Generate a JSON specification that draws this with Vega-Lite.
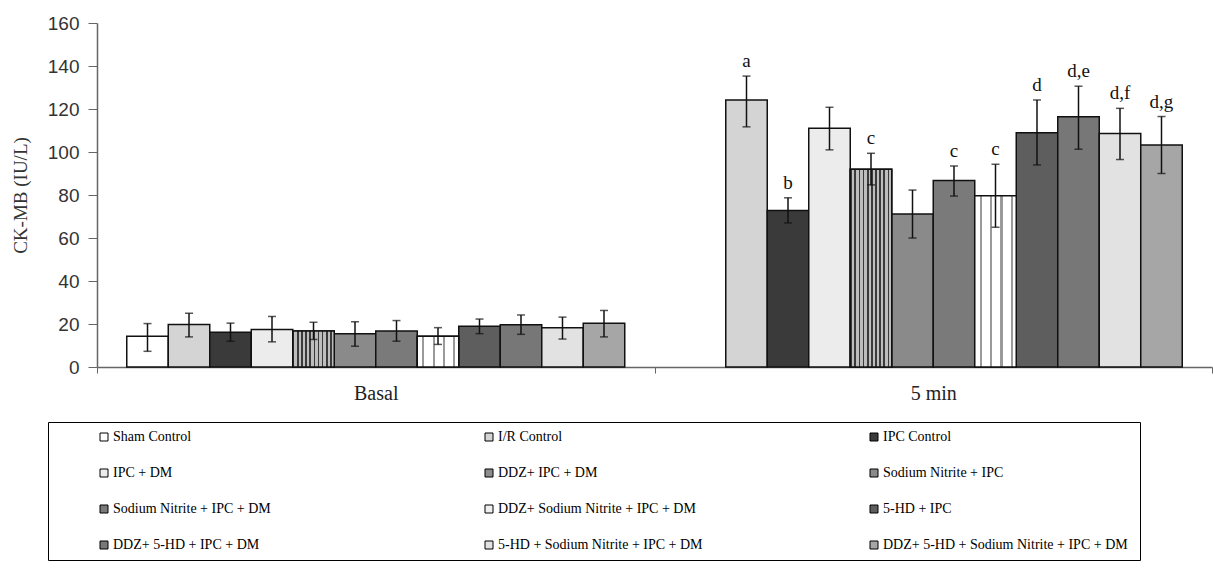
{
  "$schema": "https://vega.github.io/schema/vega-lite/v6.json",
  "width": 1115,
  "height": 344,
  "autosize": {"type": "none"},
  "padding": {"left": 97, "top": 23, "right": 1, "bottom": 202},
  "background": "white",
  "config": {"view": {"stroke": null}, "font": "Liberation Serif"},
  "data": {"values": [
    {"time": "Basal", "group": "Sham Control", "mean": 14.3, "lo": 7.3, "hi": 20.2, "sig": ""},
    {"time": "Basal", "group": "I/R Control", "mean": 19.8, "lo": 14, "hi": 25, "sig": ""},
    {"time": "Basal", "group": "IPC Control", "mean": 16.2, "lo": 12, "hi": 20.4, "sig": ""},
    {"time": "Basal", "group": "IPC + DM", "mean": 17.5, "lo": 11.7, "hi": 23.5, "sig": ""},
    {"time": "Basal", "group": "DDZ+ IPC + DM", "mean": 16.8, "lo": 12.8, "hi": 20.8, "sig": ""},
    {"time": "Basal", "group": "Sodium Nitrite  + IPC", "mean": 15.5, "lo": 9.7, "hi": 21, "sig": ""},
    {"time": "Basal", "group": "Sodium Nitrite  + IPC + DM", "mean": 16.8, "lo": 12, "hi": 21.6, "sig": ""},
    {"time": "Basal", "group": "DDZ+ Sodium Nitrite  + IPC + DM", "mean": 14.3, "lo": 10.5, "hi": 18.3, "sig": ""},
    {"time": "Basal", "group": "5-HD + IPC", "mean": 19, "lo": 15.5, "hi": 22.3, "sig": ""},
    {"time": "Basal", "group": "DDZ+ 5-HD + IPC + DM", "mean": 19.7, "lo": 15.2, "hi": 24.2, "sig": ""},
    {"time": "Basal", "group": "5-HD + Sodium Nitrite  + IPC + DM", "mean": 18.2, "lo": 13, "hi": 23.2, "sig": ""},
    {"time": "Basal", "group": "DDZ+ 5-HD + Sodium Nitrite  + IPC + DM", "mean": 20.3, "lo": 14, "hi": 26.3, "sig": ""},
    {"time": "5 min", "group": "I/R Control", "mean": 124.2, "lo": 111.7, "hi": 135.3, "sig": "a"},
    {"time": "5 min", "group": "IPC Control", "mean": 72.8, "lo": 67, "hi": 78.7, "sig": "b"},
    {"time": "5 min", "group": "IPC + DM", "mean": 111, "lo": 101, "hi": 120.8, "sig": ""},
    {"time": "5 min", "group": "DDZ+ IPC + DM", "mean": 92, "lo": 84.7, "hi": 99.4, "sig": "c"},
    {"time": "5 min", "group": "Sodium Nitrite  + IPC", "mean": 71.2, "lo": 60, "hi": 82.3, "sig": ""},
    {"time": "5 min", "group": "Sodium Nitrite  + IPC + DM", "mean": 86.8, "lo": 79.5, "hi": 93.5, "sig": "c"},
    {"time": "5 min", "group": "DDZ+ Sodium Nitrite  + IPC + DM", "mean": 79.7, "lo": 65, "hi": 94.3, "sig": "c"},
    {"time": "5 min", "group": "5-HD + IPC", "mean": 109, "lo": 94, "hi": 124.2, "sig": "d"},
    {"time": "5 min", "group": "DDZ+ 5-HD + IPC + DM", "mean": 116.4, "lo": 101.3, "hi": 130.6, "sig": "d,e"},
    {"time": "5 min", "group": "5-HD + Sodium Nitrite  + IPC + DM", "mean": 108.6, "lo": 96.5, "hi": 120.3, "sig": "d,f"},
    {"time": "5 min", "group": "DDZ+ 5-HD + Sodium Nitrite  + IPC + DM", "mean": 103.2, "lo": 90, "hi": 116.5, "sig": "d,g"}
  ]},
  "encoding": {
    "x": {
      "field": "time", "type": "nominal",
      "scale": {"domain": ["Basal", "5 min"], "paddingInner": 0, "paddingOuter": 0},
      "axis": {"title": null, "labelAngle": 0, "tickBand": "extent", "tickSize": 6, "domainColor": "#666", "tickColor": "#666", "domainWidth": 1.5, "labelFont": "Liberation Serif, serif", "labelFontSize": 20, "labelColor": "#222", "labelPadding": 10}
    },
    "xOffset": {
      "field": "group", "type": "nominal",
      "scale": {"domain": ["Sham Control", "I/R Control", "IPC Control", "IPC + DM", "DDZ+ IPC + DM", "Sodium Nitrite  + IPC", "Sodium Nitrite  + IPC + DM", "DDZ+ Sodium Nitrite  + IPC + DM", "5-HD + IPC", "DDZ+ 5-HD + IPC + DM", "5-HD + Sodium Nitrite  + IPC + DM", "DDZ+ 5-HD + Sodium Nitrite  + IPC + DM"], "paddingInner": 0, "paddingOuter": 0.717}
    },
    "y": {"field": "mean", "type": "quantitative", "scale": {"domain": [0, 160]},
      "axis": {"title": "CK-MB (IU/L)", "values": [0, 20, 40, 60, 80, 100, 120, 140, 160], "grid": false, "tickSize": 9, "domainColor": "#666", "tickColor": "#666", "domainWidth": 1.5, "labelFont": "Liberation Sans", "labelFontSize": 19, "labelColor": "#333", "labelPadding": 9, "titleFont": "Liberation Serif, serif", "titleFontSize": 19, "titleFontWeight": "normal", "titleColor": "#333", "titlePadding": 17}}
  },
  "layer": [
    {
      "mark": {"type": "bar", "stroke": "#111", "strokeWidth": 1.5},
      "encoding": {
        "fill": {
          "field": "group", "type": "nominal",
          "scale": {
            "domain": ["Sham Control", "I/R Control", "IPC Control", "IPC + DM", "DDZ+ IPC + DM", "Sodium Nitrite  + IPC", "Sodium Nitrite  + IPC + DM", "DDZ+ Sodium Nitrite  + IPC + DM", "5-HD + IPC", "DDZ+ 5-HD + IPC + DM", "5-HD + Sodium Nitrite  + IPC + DM", "DDZ+ 5-HD + Sodium Nitrite  + IPC + DM"],
            "range": ["#ffffff", "#d4d4d4", "#3a3a3a", "#ececec", "#8c8c8c", "#8a8a8a", "#7a7a7a", "#f0f0f0", "#5e5e5e", "#777777", "#e2e2e2", "#a6a6a6"]
          },
          "legend": {"title": null, "orient": "none", "direction": "horizontal", "legendX": -49, "legendY": 399, "columns": 3, "gridAlign": "all", "symbolType": "square", "symbolSize": 64, "symbolStrokeColor": "#000", "symbolStrokeWidth": 1, "symbolOffset": 41, "labelFont": "Liberation Serif, serif", "labelFontSize": 14, "labelColor": "#000", "labelLimit": 400, "labelOffset": 2, "rowPadding": 22, "columnPadding": 79, "strokeColor": "#000", "padding": 8}
        }
      }
    },
    {
      "transform": [{"filter": "datum.group === 'DDZ+ IPC + DM'"}],
      "mark": {"type": "bar", "stroke": "#111", "strokeWidth": 1.5,
        "fill": {"gradient": "linear", "x1": 0, "y1": 0, "x2": 1, "y2": 0, "stops": [
          {"offset": 0, "color": "#3a3a3a"}, {"offset": 0.04, "color": "#3a3a3a"}, {"offset": 0.04, "color": "#bdbdbd"}, {"offset": 0.1, "color": "#bdbdbd"},
          {"offset": 0.1, "color": "#3a3a3a"}, {"offset": 0.14, "color": "#3a3a3a"}, {"offset": 0.14, "color": "#bdbdbd"}, {"offset": 0.2, "color": "#bdbdbd"},
          {"offset": 0.2, "color": "#3a3a3a"}, {"offset": 0.24, "color": "#3a3a3a"}, {"offset": 0.24, "color": "#bdbdbd"}, {"offset": 0.3, "color": "#bdbdbd"},
          {"offset": 0.3, "color": "#3a3a3a"}, {"offset": 0.34, "color": "#3a3a3a"}, {"offset": 0.34, "color": "#bdbdbd"}, {"offset": 0.4, "color": "#bdbdbd"},
          {"offset": 0.4, "color": "#3a3a3a"}, {"offset": 0.44, "color": "#3a3a3a"}, {"offset": 0.44, "color": "#bdbdbd"}, {"offset": 0.5, "color": "#bdbdbd"},
          {"offset": 0.5, "color": "#3a3a3a"}, {"offset": 0.54, "color": "#3a3a3a"}, {"offset": 0.54, "color": "#bdbdbd"}, {"offset": 0.6, "color": "#bdbdbd"},
          {"offset": 0.6, "color": "#3a3a3a"}, {"offset": 0.64, "color": "#3a3a3a"}, {"offset": 0.64, "color": "#bdbdbd"}, {"offset": 0.7, "color": "#bdbdbd"},
          {"offset": 0.7, "color": "#3a3a3a"}, {"offset": 0.74, "color": "#3a3a3a"}, {"offset": 0.74, "color": "#bdbdbd"}, {"offset": 0.8, "color": "#bdbdbd"},
          {"offset": 0.8, "color": "#3a3a3a"}, {"offset": 0.84, "color": "#3a3a3a"}, {"offset": 0.84, "color": "#bdbdbd"}, {"offset": 0.9, "color": "#bdbdbd"},
          {"offset": 0.9, "color": "#3a3a3a"}, {"offset": 0.94, "color": "#3a3a3a"}, {"offset": 0.94, "color": "#bdbdbd"}, {"offset": 1, "color": "#bdbdbd"}
        ]}},
      "encoding": {}
    },
    {
      "transform": [{"filter": "datum.group === 'DDZ+ Sodium Nitrite  + IPC + DM'"}],
      "mark": {"type": "bar", "stroke": "#111", "strokeWidth": 1.5,
        "fill": {"gradient": "linear", "x1": 0, "y1": 0, "x2": 1, "y2": 0, "stops": [
          {"offset": 0, "color": "#ffffff"}, {"offset": 0.12, "color": "#ffffff"}, {"offset": 0.12, "color": "#9a9a9a"}, {"offset": 0.17, "color": "#9a9a9a"},
          {"offset": 0.17, "color": "#ffffff"}, {"offset": 0.37, "color": "#ffffff"}, {"offset": 0.37, "color": "#9a9a9a"}, {"offset": 0.42, "color": "#9a9a9a"},
          {"offset": 0.42, "color": "#ffffff"}, {"offset": 0.62, "color": "#ffffff"}, {"offset": 0.62, "color": "#9a9a9a"}, {"offset": 0.67, "color": "#9a9a9a"},
          {"offset": 0.67, "color": "#ffffff"}, {"offset": 0.87, "color": "#ffffff"}, {"offset": 0.87, "color": "#9a9a9a"}, {"offset": 0.92, "color": "#9a9a9a"},
          {"offset": 0.92, "color": "#ffffff"}, {"offset": 1, "color": "#ffffff"}
        ]}},
      "encoding": {}
    },
    {
      "mark": {"type": "rule", "color": "#111", "strokeWidth": 1.5},
      "encoding": {"y": {"field": "lo", "type": "quantitative"}, "y2": {"field": "hi"}}
    },
    {
      "mark": {"type": "tick", "color": "#111", "thickness": 1.5, "size": 8, "orient": "horizontal"},
      "encoding": {"y": {"field": "lo", "type": "quantitative"}}
    },
    {
      "mark": {"type": "tick", "color": "#111", "thickness": 1.5, "size": 8, "orient": "horizontal"},
      "encoding": {"y": {"field": "hi", "type": "quantitative"}}
    },
    {
      "mark": {"type": "text", "baseline": "bottom", "dy": -5, "fontSize": 19, "font": "Liberation Serif, serif", "color": "#111"},
      "encoding": {"y": {"field": "hi", "type": "quantitative"}, "text": {"field": "sig"}}
    }
  ]
}
